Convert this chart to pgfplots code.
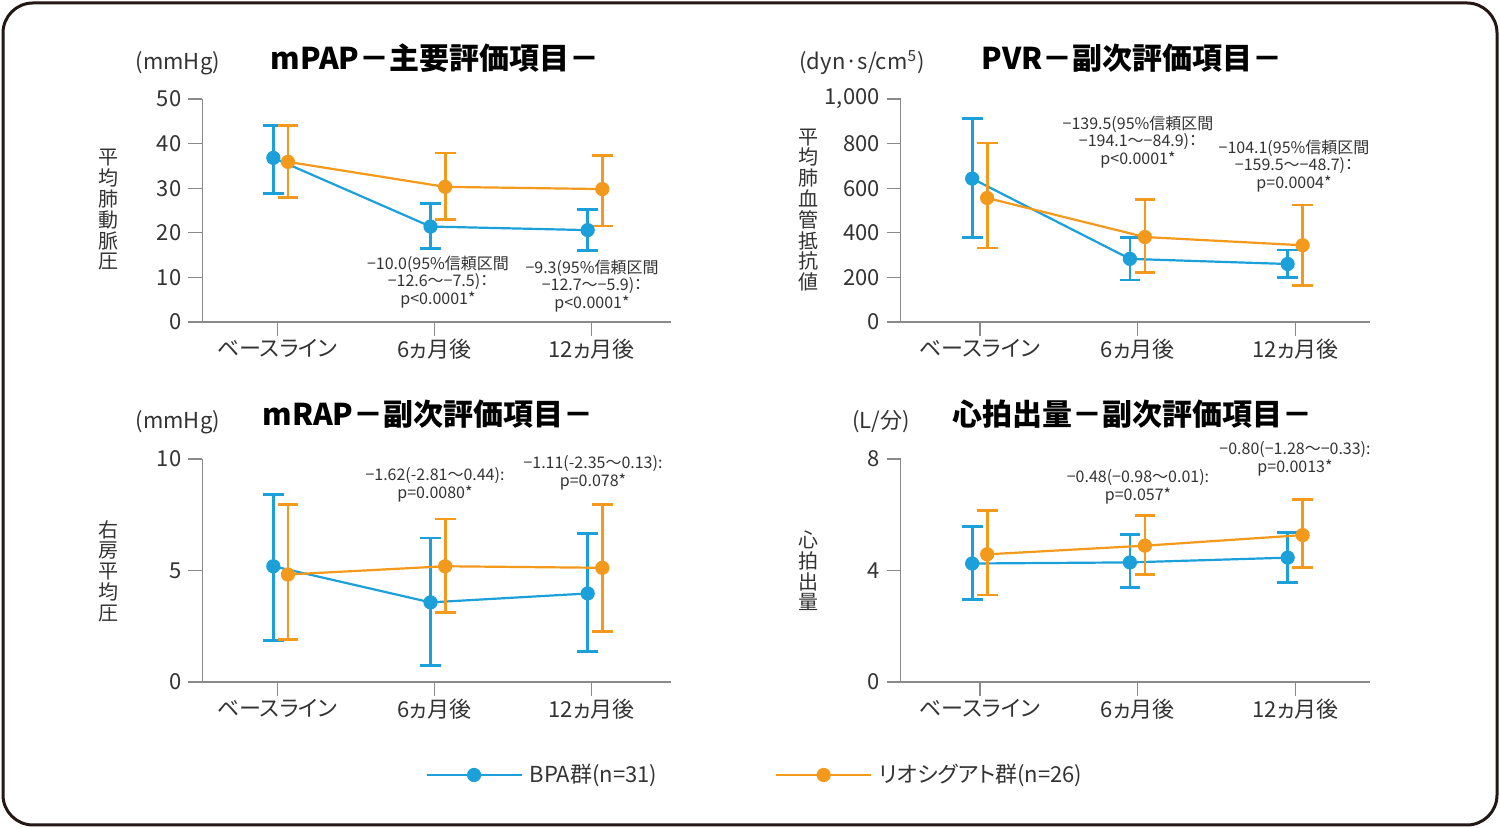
\documentclass[border=0pt]{standalone}
\usepackage{fontspec}
\setmainfont{Noto Sans CJK JP}[RawFeature=+palt]
\usepackage{pgfplots}
\usepackage{pgfplotstable}
\pgfplotsset{compat=1.18}
\definecolor{cblue}{HTML}{1BA0DA}
\definecolor{corange}{HTML}{F39A1C}
\definecolor{axgray}{HTML}{8A8A8A}
\definecolor{txt}{HTML}{333333}
\definecolor{frame}{HTML}{231815}

% columns: x y lo hi
\pgfplotstableread{
x y lo hi
-0.025 36.8 28.8 44.1
0.975 21.4 16.4 26.6
1.975 20.6 16.1 25.2
}\pAblue
\pgfplotstableread{
x y lo hi
0.068 35.9 28.0 44.1
1.068 30.3 22.9 37.9
2.068 29.8 21.5 37.3
}\pAorange
\pgfplotstableread{
x y lo hi
-0.05 643 378 912
0.95 283 188 378
1.95 260 199 323
}\pBblue
\pgfplotstableread{
x y lo hi
0.045 556 332 803
1.045 381 223 549
2.045 344 164 525
}\pBorange
\pgfplotstableread{
x y lo hi
-0.025 5.19 1.86 8.39
0.975 3.57 0.73 6.46
1.975 3.97 1.37 6.65
}\pCblue
\pgfplotstableread{
x y lo hi
0.068 4.82 1.89 7.95
1.068 5.19 3.11 7.31
2.068 5.12 2.28 7.95
}\pCorange
\pgfplotstableread{
x y lo hi
-0.05 4.25 2.96 5.58
0.95 4.29 3.38 5.30
1.95 4.46 3.56 5.35
}\pDblue
\pgfplotstableread{
x y lo hi
0.045 4.58 3.12 6.15
1.045 4.89 3.87 5.96
2.045 5.27 4.10 6.54
}\pDorange

\pgfplotsset{
  panel/.style={
    scale only axis, width=234.5pt, height=111.5pt,
    anchor=south west,
    ymin=0,
    axis lines=left, axis line style={-, draw=axgray, line width=0.6pt},
    tick align=outside, major tick length=7pt,
    tick style={draw=axgray, line width=0.6pt},
    xtick={0,1,2}, xticklabels={ベースライン,6ヵ月後,12ヵ月後},
    ticklabel style={font=\fontsize{11}{13}\selectfont, text=txt},
    xticklabel style={inner sep=1.5pt},
    /pgf/number format/assume math mode=true,
    clip=false,
  },
  leftpanel/.style={panel, xmin=-0.477, xmax=2.507},
  rightpanel/.style={panel, xmin=-0.503, xmax=2.47},
  serr/.style={error bars/.cd, y dir=both, y explicit,
    error bar style={line width=1.4pt},
    error mark options={rotate=90, line width=1.4pt, mark size=5.2pt}},
  sblue/.style={color=cblue, line width=1.1pt, mark=*, mark size=3pt, mark options={solid}},
  sorange/.style={color=corange, line width=1.1pt, mark=*, mark size=3pt, mark options={solid}},
}
\newcommand{\series}[2]{%
  \addplot+[#1, serr] table[x=x, y=y,
    y error plus expr=\thisrow{hi}-\thisrow{y},
    y error minus expr=\thisrow{y}-\thisrow{lo}] {#2};}

\begin{document}
\begin{tikzpicture}
\useasboundingbox (0,0) rectangle (750pt,414pt);
\fill[white] (0,0) rectangle (750pt,414pt);
\draw[frame, line width=1.5pt, rounded corners=15pt] (1.5pt,1.5pt) rectangle (748.5pt,412.5pt);

% Panel 1: mPAP
\begin{axis}[leftpanel, at={(101.15pt,253pt)}, ymax=50, ytick={0,10,20,30,40,50}]
\series{sblue}{\pAblue}
\series{sorange}{\pAorange}
\end{axis}

% Panel 2: PVR
\begin{axis}[rightpanel, at={(450.35pt,253pt)}, ymax=1000, ytick={0,200,400,600,800,1000},
  /pgf/number format/.cd, 1000 sep={,}]
\series{sblue}{\pBblue}
\series{sorange}{\pBorange}
\end{axis}

% Panel 3: mRAP
\begin{axis}[leftpanel, at={(101.15pt,73pt)}, ymax=10, ytick={0,5,10},
  legend columns=2,
  legend style={draw=none, fill=none, inner sep=0pt,
    at={(0.475,-0.417)}, anchor=west,
    font=\fontsize{11}{13}\selectfont, text=txt,
    /tikz/every even column/.append style={column sep=57pt},
    /tikz/every odd column/.append style={column sep=1.5pt}},
  legend cell align=left,
  legend image code/.code={
    \draw[#1, mark=none] (0pt,0pt) -- (47.5pt,0pt);
    \draw[#1, only marks] plot coordinates {(23.75pt,0pt)};
  }]
\series{sblue}{\pCblue}
\addlegendentry{BPA群(n=31)}
\series{sorange}{\pCorange}
\addlegendentry{リオシグアト群(n=26)}
\end{axis}

% Panel 4: cardiac output
\begin{axis}[rightpanel, at={(450.35pt,73pt)}, ymax=8, ytick={0,4,8}]
\series{sblue}{\pDblue}
\series{sorange}{\pDorange}
\end{axis}

% Titles and units
\node[font=\fontsize{15}{18}\selectfont\bfseries] at (217.5pt,385pt) {mPAP－主要評価項目－};
\node[font=\fontsize{15}{18}\selectfont\bfseries] at (566pt,385pt) {PVR－副次評価項目－};
\node[font=\fontsize{15}{18}\selectfont\bfseries] at (214pt,207pt) {mRAP－副次評価項目－};
\node[font=\fontsize{15}{18}\selectfont\bfseries] at (566pt,207pt) {心拍出量－副次評価項目－};

\node[font=\fontsize{11}{13}\selectfont, text=txt] at (89pt,382.5pt) {(mmHg)};
\node[font=\fontsize{11}{13}\selectfont, text=txt] at (431pt,382.5pt) {(dyn·s/cm\textsuperscript{5})};
\node[font=\fontsize{11}{13}\selectfont, text=txt] at (89pt,203pt) {(mmHg)};
\node[font=\fontsize{11}{13}\selectfont, text=txt] at (440.5pt,203pt) {(L/分)};

% Vertical y labels
\node[font=\fontsize{10}{10.4}\selectfont, align=center, text=txt, inner sep=0pt] at (54pt,309pt) {平\\均\\肺\\動\\脈\\圧};
\node[font=\fontsize{10}{10.4}\selectfont, align=center, text=txt, inner sep=0pt] at (404pt,309pt) {平\\均\\肺\\血\\管\\抵\\抗\\値};
\node[font=\fontsize{10}{10.4}\selectfont, align=center, text=txt, inner sep=0pt] at (54pt,128.5pt) {右\\房\\平\\均\\圧};
\node[font=\fontsize{10}{10.4}\selectfont, align=center, text=txt, inner sep=0pt] at (404pt,128.5pt) {心\\拍\\出\\量};

% Annotations
\tikzset{ann/.style={font=\fontsize{8}{8.8}\selectfont, align=center, text=txt, inner sep=0pt}}
\node[ann] at (219pt,273pt) {−10.0(95\%信頼区間\\−12.6〜−7.5)：\\p<0.0001*};
\node[ann] at (296pt,271pt) {−9.3(95\%信頼区間\\−12.7〜−5.9)：\\p<0.0001*};
\node[ann] at (569pt,343pt) {−139.5(95\%信頼区間\\−194.1〜−84.9)：\\p<0.0001*};
\node[ann] at (647pt,331pt) {−104.1(95\%信頼区間\\−159.5〜−48.7)：\\p=0.0004*};
\node[ann] at (217.5pt,171.5pt) {−1.62(-2.81〜0.44):\\p=0.0080*};
\node[ann] at (296.5pt,177.5pt) {−1.11(-2.35〜0.13):\\p=0.078*};
\node[ann] at (569pt,170.5pt) {−0.48(−0.98〜0.01):\\p=0.057*};
\node[ann] at (647.5pt,184.5pt) {−0.80(−1.28〜−0.33):\\p=0.0013*};
\end{tikzpicture}
\end{document}
